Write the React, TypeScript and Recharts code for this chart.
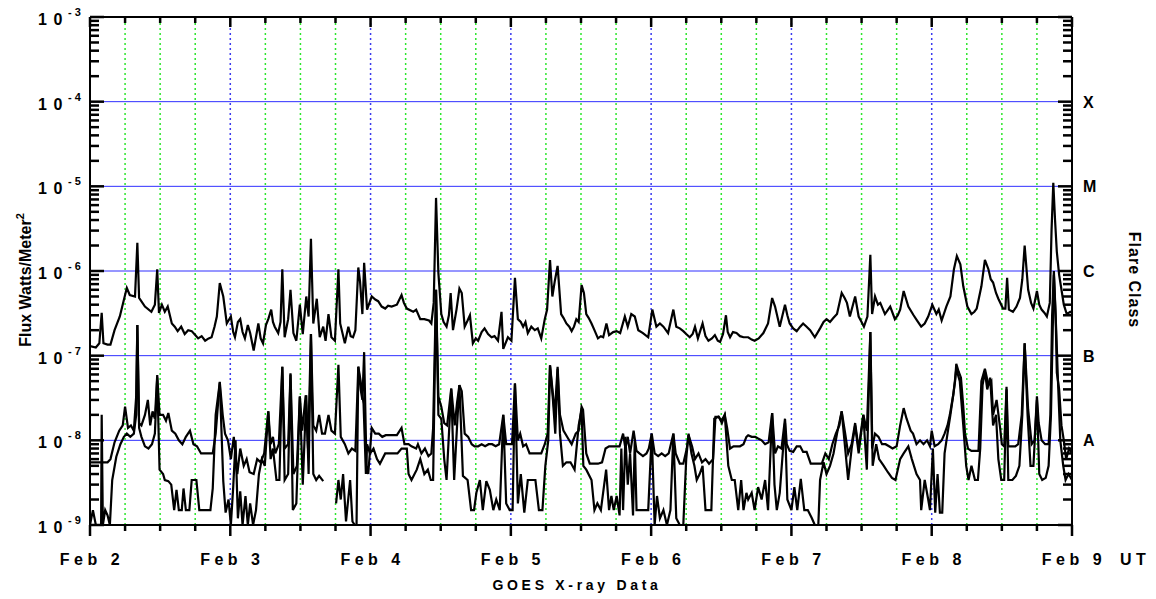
import React from "react";
import { LineChart, Line, XAxis, YAxis, ReferenceLine } from "recharts";

// hours since Feb 2 00 UT
const dayHours = [0, 24, 48, 72, 96, 120, 144, 168];
const dayLabels = ["Feb 2", "Feb 3", "Feb 4", "Feb 5", "Feb 6", "Feb 7", "Feb 8", "Feb 9"];
const quarterOffsets = [6, 12, 18];

const decades = [1e-9, 1e-8, 1e-7, 1e-6, 1e-5, 1e-4, 1e-3];
const minorSteps = [2, 3, 4, 5, 6, 7, 8, 9];
const classLevels = [1e-8, 1e-7, 1e-6, 1e-5, 1e-4];
const classLetters = ["A", "B", "C", "M", "X"];

// long channel (1-8 A)
const longFlux: [number, number][] = [
	[0, 1.3e-7], [1, 1.25e-7], [1.6, 1.4e-7], [2, 3.2e-7], [2.3, 1.4e-7], [3, 1.35e-7], [3.5, 1.35e-7],
	[4.2, 2.0e-7], [5.1, 2.9e-7], [6, 5.2e-7], [6.3, 6.3e-7], [6.8, 5.2e-7], [7.7, 5e-7], [8.1, 2.15e-6],
	[8.4, 4.8e-7], [9.4, 3.8e-7], [10.5, 3.3e-7], [11.1, 4e-7], [11.5, 1.05e-6], [11.8, 3.2e-7], [12.3, 4e-7],
	[12.8, 3.3e-7], [13.3, 3.8e-7], [14, 2.4e-7], [14.5, 2.2e-7], [15, 1.95e-7], [15.6, 2.2e-7], [16.2, 1.8e-7],
	[16.8, 2e-7], [17.4, 1.95e-7], [18, 1.75e-7], [18.5, 1.6e-7], [19.1, 1.7e-7], [19.7, 1.5e-7], [20.3, 1.6e-7],
	[20.8, 1.65e-7], [21.3, 2.2e-7], [21.7, 2.9e-7], [22.2, 7.2e-7], [22.8, 5e-7], [23.4, 2.4e-7], [24.1, 2.9e-7],
	[24.5, 1.9e-7], [24.8, 1.65e-7], [25.3, 2.5e-7], [25.7, 2.7e-7], [26.1, 1.9e-7], [26.5, 1.6e-7], [27, 2.3e-7],
	[27.4, 1.85e-7], [28, 1.15e-7], [28.8, 2.4e-7], [29.2, 1.6e-7], [29.6, 1.4e-7], [30.1, 2.3e-7], [30.5, 2.7e-7],
	[31, 3.5e-7], [31.3, 2.5e-7], [31.6, 2.2e-7], [32.2, 1.85e-7], [32.6, 2.5e-7], [32.9, 1.05e-6], [33.3, 1.65e-7],
	[33.9, 2.7e-7], [34.3, 6e-7], [34.8, 1.85e-7], [35.3, 1.5e-7], [35.9, 4e-7], [36.4, 1.8e-7], [37, 5e-7],
	[37.4, 2.9e-7], [37.8, 2.4e-6], [38.2, 2.4e-7], [38.8, 4.7e-7], [39.3, 1.65e-7], [39.9, 2.2e-7], [40.3, 1.5e-7],
	[40.8, 3.1e-7], [41.3, 1.65e-7], [41.9, 1.5e-7], [42.5, 1.05e-6], [42.8, 2.4e-7], [43.6, 1.4e-7], [44.2, 2.2e-7],
	[44.6, 1.7e-7], [45, 1.65e-7], [45.4, 2e-7], [45.9, 1.1e-6], [46.2, 7.5e-7], [46.6, 3.1e-7], [46.9, 1.25e-6],
	[47.4, 3.5e-7], [48.2, 5e-7], [48.8, 4.6e-7], [49.3, 4.4e-7], [49.9, 3.8e-7], [50.5, 3.6e-7], [51, 3.9e-7],
	[51.6, 3.8e-7], [52.5, 4e-7], [53.3, 5.2e-7], [53.7, 4.2e-7], [54.2, 3.6e-7], [55.3, 3.3e-7], [55.8, 3.5e-7],
	[56.5, 2.7e-7], [57.2, 2.7e-7], [58, 2.6e-7], [58.4, 2.4e-7], [58.8, 4.2e-7], [59.2, 7.3e-6], [59.6, 9.5e-7],
	[60.1, 3.1e-7], [60.5, 2.5e-7], [61, 2.2e-7], [61.4, 3e-7], [61.7, 5.5e-7], [62.1, 2e-7], [62.7, 3.5e-7],
	[63.2, 6.2e-7], [63.6, 5.5e-7], [64.1, 2.2e-7], [64.6, 2.6e-7], [65, 3e-7], [65.5, 1.4e-7], [66, 1.6e-7],
	[66.4, 1.5e-7], [67, 1.9e-7], [67.5, 2.1e-7], [68.1, 1.8e-7], [68.7, 1.65e-7], [69.2, 1.7e-7], [69.8, 1.5e-7],
	[70.4, 3.3e-7], [70.7, 1.2e-7], [71.5, 1.65e-7], [72.1, 1.5e-7], [72.7, 8.3e-7], [73.2, 2.7e-7], [73.7, 2.5e-7],
	[74.1, 2.2e-7], [74.5, 2.5e-7], [74.9, 1.85e-7], [75.5, 2.2e-7], [76.1, 2e-7], [76.6, 2.1e-7], [77.2, 1.6e-7],
	[77.8, 2.7e-7], [78.2, 3.5e-7], [78.7, 1.35e-6], [79.1, 5e-7], [79.5, 7.5e-7], [80, 1.15e-6], [80.6, 3.1e-7],
	[81, 2.8e-7], [81.5, 2.4e-7], [82, 2.2e-7], [82.4, 1.95e-7], [82.8, 2.2e-7], [83.2, 2.7e-7], [83.6, 2.5e-7],
	[84.1, 6.8e-7], [84.5, 5.5e-7], [84.9, 3.1e-7], [85.3, 2.8e-7], [85.8, 2.4e-7], [86.3, 2e-7], [86.9, 1.6e-7],
	[87.4, 1.7e-7], [87.8, 1.65e-7], [88.35, 2.4e-7], [88.8, 1.75e-7], [89.5, 1.9e-7], [90.1, 1.95e-7], [90.7, 1.85e-7],
	[91.5, 2.9e-7], [92, 2.2e-7], [92.6, 3.1e-7], [93.2, 2.9e-7], [93.8, 2e-7], [94.6, 1.85e-7], [95.5, 1.65e-7],
	[96.2, 3.5e-7], [96.9, 2.2e-7], [97.5, 2.4e-7], [98.1, 2.2e-7], [98.9, 1.85e-7], [99.8, 3.5e-7], [100.3, 2.2e-7],
	[100.9, 2.1e-7], [101.5, 1.95e-7], [102, 1.8e-7], [102.6, 1.65e-7], [103.1, 1.8e-7], [103.5, 2.2e-7], [104, 1.6e-7],
	[104.8, 2.4e-7], [105.3, 1.7e-7], [105.8, 1.5e-7], [106.4, 1.6e-7], [106.9, 1.75e-7], [107.4, 1.5e-7], [107.8, 1.45e-7],
	[108.3, 1.8e-7], [108.8, 3e-7], [109.1, 1.9e-7], [109.5, 1.65e-7], [110, 1.9e-7], [110.6, 1.85e-7], [111.2, 1.7e-7],
	[111.8, 1.65e-7], [112.6, 1.65e-7], [113.2, 1.55e-7], [113.7, 1.5e-7], [114.4, 1.6e-7], [115.2, 1.85e-7], [116, 2.4e-7],
	[116.7, 4.8e-7], [117.2, 3.8e-7], [118, 2.2e-7], [118.9, 4e-7], [119.3, 3e-7], [119.7, 2.4e-7], [120.3, 2.1e-7],
	[120.9, 1.95e-7], [121.5, 2.2e-7], [122, 2.4e-7], [122.6, 2.2e-7], [123.2, 2e-7], [124, 1.65e-7], [124.9, 2.1e-7],
	[125.5, 2.5e-7], [126, 2.7e-7], [126.6, 2.5e-7], [127.2, 2.8e-7], [127.8, 3.1e-7], [128.6, 5.5e-7], [129.1, 4.8e-7],
	[129.5, 4.2e-7], [130, 2.9e-7], [130.9, 5e-7], [131.5, 2.9e-7], [132, 2.5e-7], [132.4, 2.2e-7], [133, 2.9e-7],
	[133.5, 1.55e-6], [133.8, 3.1e-7], [134.3, 5e-7], [134.8, 4e-7], [135.2, 4.2e-7], [136, 3.1e-7], [136.9, 3.8e-7],
	[137.7, 2.7e-7], [138.2, 3e-7], [138.6, 3.5e-7], [139.2, 5.8e-7], [140, 3.8e-7], [140.9, 3e-7], [141.5, 2.6e-7],
	[142.2, 2.2e-7], [142.8, 2.4e-7], [143.4, 2.9e-7], [144.1, 4e-7], [144.8, 3.1e-7], [145.2, 3.5e-7], [145.7, 2.6e-7],
	[146.5, 3.8e-7], [147.2, 5e-7], [147.8, 1.05e-6], [148.3, 1.5e-6], [148.9, 1.2e-6], [149.4, 6.6e-7], [150.1, 3.8e-7],
	[150.8, 3.1e-7], [151.3, 3.3e-7], [151.7, 3.6e-7], [152.5, 6.6e-7], [153.1, 1.35e-6], [153.7, 1.05e-6], [154.1, 8e-7],
	[154.5, 7.3e-7], [155, 5.5e-7], [155.4, 4.7e-7], [156.2, 3.6e-7], [156.6, 3.6e-7], [156.9, 8.3e-7], [157.2, 3.5e-7],
	[157.9, 3.3e-7], [158.5, 3.8e-7], [159.1, 4.8e-7], [159.5, 8e-7], [159.9, 2e-6], [160.5, 6e-7], [161, 4.2e-7],
	[161.4, 3.6e-7], [162, 5.8e-7], [162.4, 4e-7], [162.8, 3.5e-7], [163.3, 3.2e-7], [163.7, 2.9e-7], [164.2, 4.2e-7],
	[164.5, 3e-6], [164.8, 1.1e-5], [165.1, 4e-6], [165.4, 1.7e-6], [165.8, 9e-7], [166.2, 6e-7], [166.6, 4e-7],
	[167.1, 3.1e-7], [167.7, 3.3e-7], [168, 3.2e-7],
];

// short channel (0.5-4 A), first satellite
const shortFluxA: [number, number][] = [
	[0, 5.5e-9], [1, 5.5e-9], [2, 5.5e-9], [3, 5.5e-9], [3.5, 6e-9], [4.2, 9.5e-9], [5, 1.3e-8], [5.6, 1.5e-8],
	[6, 2.5e-8], [6.5, 1.4e-8], [7, 1.5e-8], [7.5, 1.3e-8], [7.9, 3.3e-8], [8.1, 2.3e-7], [8.4, 1.6e-8], [8.8, 1.5e-8],
	[9.4, 2e-8], [9.9, 3e-8], [10.3, 1.5e-8], [10.7, 2.2e-8], [11.1, 1.8e-8], [11.5, 5.9e-8], [11.9, 2e-8], [12.5, 2e-8],
	[13, 1.7e-8], [13.4, 2.1e-8], [14, 1.3e-8], [14.6, 1.2e-8], [15.2, 1e-8], [15.8, 9e-9], [16.4, 1.1e-8], [17.1, 1.3e-8],
	[17.7, 9e-9], [18.3, 8.5e-9], [19, 7e-9], [19.7, 7e-9], [20.4, 7e-9], [21, 7e-9], [21.5, 1.2e-8], [22.2, 4.9e-8],
	[22.7, 2e-8], [23.1, 1.2e-8], [23.6, 1e-8], [24.1, 6e-9], [24.6, 1.1e-8], [25.2, 4e-9], [25.7, 8e-9], [26.3, 5e-9],
	[26.8, 6e-9], [27.3, 4.2e-9], [28, 4e-9], [28.6, 6e-9], [29.2, 5.5e-9], [29.8, 7e-9], [30.5, 2.2e-8], [30.9, 9e-9],
	[31.3, 1.1e-8], [31.7, 7e-9], [32.3, 9e-9], [32.9, 7.4e-8], [33.3, 8e-9], [33.9, 9e-9], [34.3, 6.2e-8], [34.8, 4e-9],
	[35.4, 5e-9], [35.9, 3.3e-8], [36.3, 1.3e-8], [36.9, 3.4e-8], [37.3, 8e-9], [37.8, 1.8e-7], [38.2, 1.5e-8], [38.7, 1.3e-8],
	[39.2, 2e-8], [39.7, 1.2e-8], [40.2, 1.2e-8], [40.8, 2e-8], [41.3, 1.3e-8], [41.9, 1.2e-8], [42.5, 7.8e-8], [42.9, 1.1e-8],
	[43.6, 9e-9], [44.2, 7e-9], [44.8, 8e-9], [45.4, 7.5e-9], [45.9, 7.4e-8], [46.3, 4e-8], [46.6, 3e-8], [46.9, 1.1e-7],
	[47.3, 5e-9], [47.6, 4e-9], [48.2, 1.4e-8], [48.8, 1.2e-8], [49.4, 1.2e-8], [50, 1.1e-8], [50.6, 1.15e-8], [51.2, 1.15e-8],
	[52, 1.15e-8], [52.5, 1.15e-8], [53.3, 1.4e-8], [53.8, 9e-9], [54.5, 9e-9], [55, 8.5e-9], [55.8, 8e-9], [56.1, 9e-9],
	[56.7, 7e-9], [57.3, 8e-9], [57.9, 6.5e-9], [58.4, 7e-9], [58.7, 1.4e-8], [59.2, 6e-7], [59.6, 3.3e-8], [60.1, 2.5e-8],
	[60.6, 1.6e-8], [61.1, 1.5e-8], [61.8, 4.1e-8], [62.4, 1.5e-8], [62.8, 2.8e-8], [63.2, 4.5e-8], [63.6, 3.8e-8], [64.1, 1.2e-8],
	[64.7, 1.1e-8], [65.3, 9e-9], [65.8, 8.5e-9], [66.4, 8.5e-9], [67, 9e-9], [67.6, 8.5e-9], [68.2, 9e-9], [68.8, 9e-9],
	[69.4, 8.5e-9], [70, 9e-9], [70.7, 2e-8], [71.2, 9e-9], [71.8, 9e-9], [72.2, 9e-9], [72.7, 4.7e-8], [73.2, 1e-8],
	[73.6, 1.2e-8], [74.1, 8.5e-9], [74.6, 9e-9], [75.2, 7e-9], [75.9, 7e-9], [76.6, 7e-9], [77.2, 7e-9], [77.8, 9e-9],
	[78.3, 1.2e-8], [78.7, 7.7e-8], [79.2, 3.5e-8], [79.5, 2e-8], [80, 7.4e-8], [80.4, 2e-8], [81, 1.3e-8], [81.8, 1.05e-8],
	[82.4, 9e-9], [83.1, 1.2e-8], [83.6, 1.3e-8], [84.1, 2.5e-8], [84.35, 2.3e-8], [84.9, 7e-9], [85.5, 5.3e-9], [86.2, 5.3e-9],
	[86.9, 5.3e-9], [87.6, 5.5e-9], [88.2, 8e-9], [88.8, 8.5e-9], [89.4, 8.5e-9], [90, 8.5e-9], [90.6, 8.5e-9], [91.2, 1.2e-8],
	[91.6, 8e-9], [92, 1.1e-8], [92.4, 7e-9], [93, 1.3e-8], [93.5, 7.5e-9], [94, 7e-9], [94.6, 6.5e-9], [95.2, 7e-9],
	[95.6, 8e-9], [96.1, 1.2e-8], [96.6, 7e-9], [97.2, 6.5e-9], [97.8, 7e-9], [98.4, 6.5e-9], [99, 7e-9], [99.8, 1.2e-8],
	[100.2, 7e-9], [100.9, 5.3e-9], [101.5, 5.3e-9], [102.1, 8e-9], [102.4, 1.15e-8], [103, 8.5e-9], [103.5, 6e-9], [104.1, 7e-9],
	[104.7, 5.5e-9], [105.3, 6e-9], [105.9, 5.3e-9], [106.6, 6e-9], [107, 1.9e-8], [107.6, 1.9e-8], [108.1, 1.6e-8], [108.6, 2e-8],
	[109, 1.4e-8], [109.5, 8e-9], [110.1, 8.5e-9], [110.6, 8.5e-9], [111.2, 8.5e-9], [111.8, 9e-9], [112.3, 1.1e-8], [112.6, 1.15e-8],
	[113.2, 1.1e-8], [113.8, 1.1e-8], [114.3, 1.05e-8], [114.9, 1e-8], [115.5, 9e-9], [116.1, 9.5e-9], [116.7, 2.1e-8], [117.2, 7e-9],
	[117.7, 8.5e-9], [118.3, 8e-9], [118.9, 1.8e-8], [119.2, 9e-9], [119.7, 7.5e-9], [120.3, 7.3e-9], [120.9, 8.5e-9], [121.5, 8.5e-9],
	[122, 7.3e-9], [122.6, 7.3e-9], [123.3, 5.3e-9], [124, 5.3e-9], [124.6, 5.3e-9], [125.2, 5.3e-9], [125.8, 7e-9], [126.4, 6e-9],
	[127, 9e-9], [127.6, 1.2e-8], [128.2, 1.5e-8], [128.6, 2.2e-8], [129.2, 1.2e-8], [129.7, 7e-9], [130.3, 9e-9], [130.9, 1.6e-8],
	[131.5, 8e-9], [132.3, 2e-8], [132.9, 1.3e-8], [133.5, 1.9e-7], [133.8, 8e-9], [134.3, 1.2e-8], [134.9, 1.1e-8], [135.5, 9e-9],
	[136.1, 9e-9], [136.7, 8.5e-9], [137.3, 8e-9], [138, 8.5e-9], [138.6, 1.5e-8], [139.2, 2.4e-8], [139.7, 1.8e-8], [140.4, 1.3e-8],
	[140.8, 1.2e-8], [141.4, 9e-9], [142, 1e-8], [142.6, 9e-9], [143.2, 1e-8], [143.7, 8.5e-9], [144, 1.3e-8], [144.5, 8.5e-9],
	[145.1, 9e-9], [145.7, 1e-8], [146.2, 1.2e-8], [146.7, 1.5e-8], [147.1, 2e-8], [147.7, 3.5e-8], [148, 5e-8], [148.2, 8e-8],
	[148.6, 6.5e-8], [149, 5.5e-8], [149.4, 2.5e-8], [149.7, 1.2e-8], [150.2, 8e-9], [150.8, 7.5e-9], [151.4, 7.5e-9], [152, 7.5e-9],
	[152.5, 5e-8], [153.1, 7e-8], [153.7, 4.5e-8], [154.2, 5e-8], [154.5, 2e-8], [155.1, 3e-8], [155.7, 1.4e-8], [156, 9e-9],
	[156.4, 8.5e-9], [156.8, 4.3e-8], [157.1, 8.5e-9], [157.6, 8.5e-9], [158.3, 8.5e-9], [158.8, 9e-9], [159.4, 2e-8], [159.9, 1.4e-7],
	[160.5, 2.3e-8], [161.1, 9e-9], [161.6, 1e-8], [162, 3.3e-8], [162.3, 1.6e-8], [162.8, 1e-8], [163.4, 9e-9], [164, 9e-9],
	[164.3, 2e-8], [164.6, 3e-7], [164.9, 1e-6], [165.2, 3e-7], [165.4, 6.3e-8], [165.8, 4e-8], [166.2, 1.5e-8], [166.6, 1e-8],
	[167, 6e-9], [167.5, 8e-9], [168, 7e-9],
];

// short channel (0.5-4 A), second satellite; null marks the data gap
const shortFluxB: [number, number | null][] = [
	[0, 1e-9], [0.5, 1.5e-9], [1, 1e-9], [1.5, 1e-9], [1.9, 1e-9], [2, 2e-8], [2.2, 1e-9], [2.6, 1.5e-9],
	[3, 1.3e-9], [3.4, 1e-9], [3.8, 3.4e-9], [4.5, 6.4e-9], [5.2, 9e-9], [5.8, 1.1e-8], [6.3, 1.2e-8], [6.9, 1.1e-8],
	[7.5, 1.2e-8], [7.9, 2e-8], [8.1, 2.3e-7], [8.4, 1.4e-8], [8.8, 1.1e-8], [9.4, 8.5e-9], [10, 8e-9], [10.6, 9e-9],
	[11.1, 1.2e-8], [11.5, 5.5e-8], [11.9, 4.5e-9], [12.5, 4e-9], [12.8, 3.4e-9], [13.4, 3.3e-9], [13.9, 3e-9], [14.4, 1.5e-9],
	[14.8, 2.6e-9], [15.2, 1.5e-9], [15.7, 1.5e-9], [16, 2.7e-9], [16.4, 1.5e-9], [17, 1.5e-9], [17.4, 3.4e-9], [18.2, 3.4e-9],
	[18.7, 1.5e-9], [19.3, 1.5e-9], [20, 1.5e-9], [20.6, 1.5e-9], [21, 2.7e-9], [21.5, 2e-8], [22.2, 4.8e-8], [22.8, 3.3e-9],
	[23.2, 1.4e-9], [23.7, 2e-9], [24.1, 1e-9], [24.5, 2.8e-9], [24.9, 1e-8], [25.3, 1.2e-9], [25.7, 2.5e-9], [26.1, 1e-9],
	[26.6, 2.2e-9], [27, 1e-9], [27.4, 1.8e-9], [27.9, 1e-9], [28.4, 1.5e-9], [28.9, 4e-9], [29.4, 6e-9], [29.9, 5e-9],
	[30.5, 2.2e-8], [30.9, 6e-9], [31.3, 8e-9], [31.9, 3.4e-9], [32.4, 3.4e-9], [32.9, 7.4e-8], [33.3, 3.4e-9], [33.9, 4e-9],
	[34.3, 6e-8], [34.7, 1.5e-9], [35.3, 1.8e-9], [35.9, 3.3e-8], [36.4, 3e-9], [37, 3.4e-8], [37.4, 4e-9], [37.8, 1.8e-7],
	[38.2, 4e-9], [38.7, 3.4e-9], [39.2, 3.8e-9], [39.9, 3.3e-9], [41, null], [42.1, 1.8e-9], [42.5, 3.4e-9], [42.9, 2e-9],
	[43.3, 4e-9], [43.8, 1.1e-9], [44.5, 3.4e-9], [44.9, 1.1e-9], [45.3, 1e-9], [45.6, 1e-9], [45.9, 7.4e-8], [46.3, 5e-8],
	[46.8, 2.7e-8], [47.2, 4e-9], [47.4, 9e-9], [47.9, 7e-9], [48.5, 8e-9], [49.1, 6e-9], [49.6, 5.3e-9], [50.5, 7e-9],
	[51.2, 7e-9], [52, 7e-9], [52.6, 7e-9], [53.3, 8e-9], [54.2, 8e-9], [54.5, 4e-9], [55, 3.4e-9], [55.9, 4.5e-9],
	[56.5, 6e-9], [57.2, 4e-9], [57.8, 4.5e-9], [58.3, 3.4e-9], [58.7, 3.4e-9], [59.2, 6e-7], [59.6, 2e-8], [60.1, 1.8e-8],
	[60.6, 6e-9], [61, 3.4e-9], [61.8, 4e-8], [62.3, 3.4e-9], [62.8, 1.5e-8], [63.2, 4.5e-8], [63.8, 3.8e-9], [64.6, 3.4e-9],
	[65.2, 1.5e-9], [65.7, 1.5e-9], [66.1, 2.4e-9], [66.7, 3.4e-9], [67.2, 1.5e-9], [67.8, 3.3e-9], [68.4, 2.6e-9], [69, 1.5e-9],
	[69.5, 2e-9], [70.1, 1.5e-9], [70.7, 2e-8], [71.2, 1.8e-9], [71.8, 1.5e-9], [72.3, 1.5e-9], [72.7, 4.7e-8], [73.2, 1.8e-9],
	[73.7, 4e-9], [74.3, 1.4e-9], [74.9, 3.4e-9], [75.5, 3.4e-9], [76.2, 3.4e-9], [76.8, 1.5e-9], [77.4, 1.5e-9], [77.9, 5e-9],
	[78.4, 1e-8], [78.7, 7.7e-8], [79.2, 3e-8], [79.6, 1.2e-8], [80, 7e-8], [80.4, 1.2e-8], [80.9, 5e-9], [81.5, 5.5e-9],
	[82.2, 5.5e-9], [82.9, 4.5e-9], [83.6, 1.5e-8], [84.1, 2.3e-8], [84.4, 5e-9], [84.9, 4.5e-9], [85.8, 3.4e-9], [86.3, 1.5e-9],
	[86.8, 1.8e-9], [87.4, 1.5e-9], [88.3, 4.5e-9], [88.8, 1.5e-9], [89.2, 2.2e-9], [89.6, 1.5e-9], [90.1, 2.2e-9], [90.6, 1.3e-9],
	[90.9, 8e-9], [91.2, 1.5e-9], [91.6, 1.1e-8], [92, 3e-9], [92.4, 7e-9], [92.9, 1.3e-9], [93.2, 1e-8], [93.5, 1.5e-9],
	[94, 1.5e-9], [94.8, 1.5e-9], [95.5, 1.5e-9], [96.1, 1.2e-8], [96.6, 1e-9], [97, 2.2e-9], [97.5, 1.2e-9], [98.1, 1.5e-9],
	[98.7, 1e-9], [99.3, 1.5e-9], [99.8, 1.2e-8], [100.3, 1.2e-9], [100.9, 1e-9], [101.5, 1e-9], [102, 6e-9], [102.4, 1.2e-8],
	[102.9, 7e-9], [103.4, 5e-9], [103.8, 3.4e-9], [104.3, 4e-9], [104.8, 5e-9], [105.3, 1.5e-9], [106.3, 1.5e-9], [106.8, 1.8e-8],
	[107.5, 1.9e-8], [108, 1.7e-8], [108.6, 2e-8], [109.2, 5e-9], [109.8, 3.4e-9], [110.3, 3.4e-9], [110.9, 1.5e-9], [111.4, 3.4e-9],
	[111.8, 1.5e-9], [112.3, 2.4e-9], [112.6, 2e-9], [113.2, 2.4e-9], [113.7, 1.5e-9], [114.3, 2.8e-9], [114.9, 2e-9], [115.5, 3.4e-9],
	[116, 1.5e-9], [116.7, 2.1e-8], [117.1, 3e-9], [117.5, 1.5e-9], [118, 2.4e-9], [118.9, 1.6e-8], [119.3, 2e-9], [120, 1.5e-9],
	[120.5, 2.8e-9], [121, 1.5e-9], [121.6, 3.5e-9], [122.2, 1.5e-9], [122.8, 1.5e-9], [123.5, 1.2e-9], [124, 1e-9], [124.6, 1e-9],
	[124.9, 3.4e-9], [125.5, 5.5e-9], [126, 4e-9], [126.6, 5e-9], [127.2, 7e-9], [127.8, 1.2e-8], [128.6, 2.2e-8], [129.2, 8e-9],
	[129.7, 3.4e-9], [130.3, 8e-9], [130.9, 1.5e-8], [131.5, 7e-9], [132.3, 2e-8], [132.9, 4.5e-9], [133.5, 1.9e-7], [133.9, 5e-9],
	[134.5, 9e-9], [135, 6e-9], [135.8, 5e-9], [136.5, 4.2e-9], [137.2, 3.6e-9], [137.8, 3.4e-9], [138.6, 6e-9], [139.2, 7e-9],
	[140, 8.5e-9], [140.6, 6e-9], [141.4, 4e-9], [142, 3.4e-9], [142.2, 1.5e-9], [142.8, 3.4e-9], [143.4, 2e-9], [143.7, 1.5e-9],
	[144.2, 8e-9], [144.6, 1.4e-9], [145, 4e-9], [145.4, 1.4e-9], [145.8, 1.4e-9], [146.2, 7e-9], [146.7, 1.2e-8], [147.2, 2e-8],
	[147.7, 3.5e-8], [148.2, 7e-8], [148.8, 5e-8], [149.4, 1.5e-8], [149.9, 5e-9], [150.3, 3.4e-9], [150.8, 5e-9], [151.4, 3.4e-9],
	[151.9, 3.4e-9], [152.3, 8e-9], [152.7, 4.5e-8], [153.1, 6.5e-8], [153.5, 4e-8], [154, 5.5e-8], [154.5, 1.5e-8], [155, 2e-8],
	[155.4, 6e-9], [155.9, 3.4e-9], [156.4, 3.4e-9], [156.8, 4e-8], [157.1, 3.4e-9], [157.8, 3.4e-9], [158.4, 3.8e-9], [159, 5e-9],
	[159.5, 2e-8], [159.9, 1.4e-7], [160.4, 2e-8], [160.9, 5e-9], [161.4, 5e-9], [162, 3e-8], [162.4, 4e-9], [162.9, 3.4e-9],
	[163.5, 3.6e-9], [164, 5e-9], [164.4, 2e-8], [164.9, 9e-7], [165.3, 2e-7], [165.6, 5e-8], [166, 1e-8], [166.5, 5e-9],
	[166.9, 3.4e-9], [167.4, 4e-9], [168, 3.4e-9],
];

const toPoints = (rows: [number, number | null][]) => rows.map(([t, v]) => ({ t, v }));

const hourTicks = dayHours.flatMap((d) =>
	d < 168 ? [d, ...quarterOffsets.map((q) => d + q)] : [d],
);
const fluxTicks = decades.flatMap((d) =>
	d < 1e-3 ? [d, ...minorSteps.map((m) => m * d)] : [d],
);

const FONT = "'Liberation Sans', Arial, Helvetica, sans-serif";
const isDecade = (v: number) => Math.abs(Math.log10(v) - Math.round(Math.log10(v))) < 1e-6;

// plot box: x 90..1072, y 17..525
const PLOT_LEFT = 90;
const PLOT_RIGHT = 1072;
const PLOT_TOP = 17;
const PLOT_BOTTOM = 525;
const TICK_W = 2.5;

function BottomTick({ x, payload }: any) {
	const t = payload.value;
	const isDay = t % 24 === 0;
	const idx = dayHours.indexOf(t);
	const y = PLOT_BOTTOM;
	return (
		<g>
			<line x1={x} x2={x} y1={y} y2={y + (isDay ? 11 : 6)} stroke="#000" strokeWidth={TICK_W} />
			{isDay && (
				<text x={x + 2} y={y + 40} textAnchor="middle" fontFamily={FONT} fontWeight="bold" fontSize={16} letterSpacing={4.5} fill="#000">
					{dayLabels[idx]}
				</text>
			)}
			{t === 168 && (
				<text x={x + 48} y={y + 40} fontFamily={FONT} fontWeight="bold" fontSize={16} letterSpacing={4.5} fill="#000">
					UT
				</text>
			)}
		</g>
	);
}

function TopTick({ x, payload }: any) {
	const isDay = payload.value % 24 === 0;
	const y = PLOT_TOP;
	return <line x1={x} x2={x} y1={y} y2={y + (isDay ? 10 : 6)} stroke="#000" strokeWidth={TICK_W} />;
}

function LeftTick({ y, payload }: any) {
	const v = payload.value;
	const major = isDecade(v);
	const x = PLOT_LEFT;
	return (
		<g>
			<line x1={x} x2={x + (major ? 14 : 9)} y1={y} y2={y} stroke="#000" strokeWidth={TICK_W} />
			{major && (
				<g fontFamily={FONT} fontWeight="bold" fill="#000">
					<text x={38} y={y + 8} fontSize={16} letterSpacing={6.5}>10</text>
					<text x={68} y={y - 1} fontSize={11} letterSpacing={3}>{String(Math.round(Math.log10(v)))}</text>
				</g>
			)}
		</g>
	);
}

function RightTick({ y, payload }: any) {
	const v = payload.value;
	const major = isDecade(v);
	const x = PLOT_RIGHT;
	const ci = classLevels.findIndex((c) => Math.abs(Math.log10(c) - Math.log10(v)) < 1e-6);
	return (
		<g>
			<line x1={x} x2={x - (major ? 14 : 9)} y1={y} y2={y} stroke="#000" strokeWidth={TICK_W} />
			{ci >= 0 && (
				<text x={x + 11} y={y + 6} fontFamily={FONT} fontWeight="bold" fontSize={16} fill="#000">
					{classLetters[ci]}
				</text>
			)}
		</g>
	);
}

const axisLine = { stroke: "#000", strokeWidth: 2 };

export default function App() {
	const longData = toPoints(longFlux);
	const shortDataA = toPoints(shortFluxA);
	const shortDataB = toPoints(shortFluxB);

	return (
		<div style={{ position: "absolute", left: 0, top: 0, width: 1156, height: 599, background: "#fff" }}>
			<LineChart width={1156} height={599} margin={{ top: 7, right: 14, bottom: 24, left: 10 }}>
				<XAxis
					xAxisId="bottom"
					dataKey="t"
					type="number"
					domain={[0, 168]}
					allowDataOverflow
					ticks={hourTicks}
					interval={0}
					height={50}
					tickSize={0}
					tickMargin={0}
					axisLine={axisLine}
					tickLine={false}
					tick={(p: any) => <BottomTick {...p} />}
				/>
				<XAxis
					xAxisId="top"
					orientation="top"
					dataKey="t"
					type="number"
					domain={[0, 168]}
					allowDataOverflow
					ticks={hourTicks}
					interval={0}
					height={10}
					tickSize={0}
					tickMargin={0}
					axisLine={axisLine}
					tickLine={false}
					tick={(p: any) => <TopTick {...p} />}
				/>
				<YAxis
					yAxisId="left"
					type="number"
					scale="log"
					domain={[1e-9, 1e-3]}
					allowDataOverflow
					ticks={fluxTicks}
					interval={0}
					width={80}
					tickSize={0}
					tickMargin={0}
					axisLine={axisLine}
					tickLine={false}
					tick={(p: any) => <LeftTick {...p} />}
				/>
				<YAxis
					yAxisId="right"
					orientation="right"
					type="number"
					scale="log"
					domain={[1e-9, 1e-3]}
					allowDataOverflow
					ticks={fluxTicks}
					interval={0}
					width={70}
					tickSize={0}
					tickMargin={0}
					axisLine={axisLine}
					tickLine={false}
					tick={(p: any) => <RightTick {...p} />}
				/>

				{classLevels.map((lv) => (
					<ReferenceLine key={`h${lv}`} xAxisId="bottom" yAxisId="left" y={lv} stroke="#2f2fff" strokeWidth={1} />
				))}
				{hourTicks
					.filter((t) => t > 0 && t < 168)
					.map((t) => (
						<ReferenceLine
							key={`v${t}`}
							xAxisId="bottom"
							yAxisId="left"
							x={t}
							stroke={t % 24 === 0 ? "#3b3bf0" : "#2ee62e"}
							strokeWidth={1.5}
							strokeDasharray="2 3"
						/>
					))}

				<Line
					data={shortDataB}
					xAxisId="bottom"
					yAxisId="left"
					dataKey="v"
					type="linear"
					stroke="#000"
					strokeWidth={2.2}
					dot={false}
					activeDot={false}
					connectNulls={false}
					isAnimationActive={false}
				/>
				<Line
					data={shortDataA}
					xAxisId="bottom"
					yAxisId="left"
					dataKey="v"
					type="linear"
					stroke="#000"
					strokeWidth={2.2}
					dot={false}
					activeDot={false}
					isAnimationActive={false}
				/>
				<Line
					data={longData}
					xAxisId="bottom"
					yAxisId="left"
					dataKey="v"
					type="linear"
					stroke="#000"
					strokeWidth={2.2}
					dot={false}
					activeDot={false}
					isAnimationActive={false}
				/>
			</LineChart>

			<svg width={1156} height={599} style={{ position: "absolute", left: 0, top: 0, pointerEvents: "none" }}>
				<g fontFamily={FONT} fontWeight="bold" fill="#000">
					<text transform="translate(31,280) rotate(-90)" textAnchor="middle" fontSize={16}>
						Flux Watts/Meter
						<tspan dy={-7} fontSize={11}>2</tspan>
					</text>
					<text transform="translate(1129,280) rotate(90)" textAnchor="middle" fontSize={16} letterSpacing={1}>
						Flare Class
					</text>
					<text x={577} y={590} textAnchor="middle" fontSize={14} letterSpacing={3.7}>
						GOES X-ray Data
					</text>
				</g>
			</svg>
		</div>
	);
}
